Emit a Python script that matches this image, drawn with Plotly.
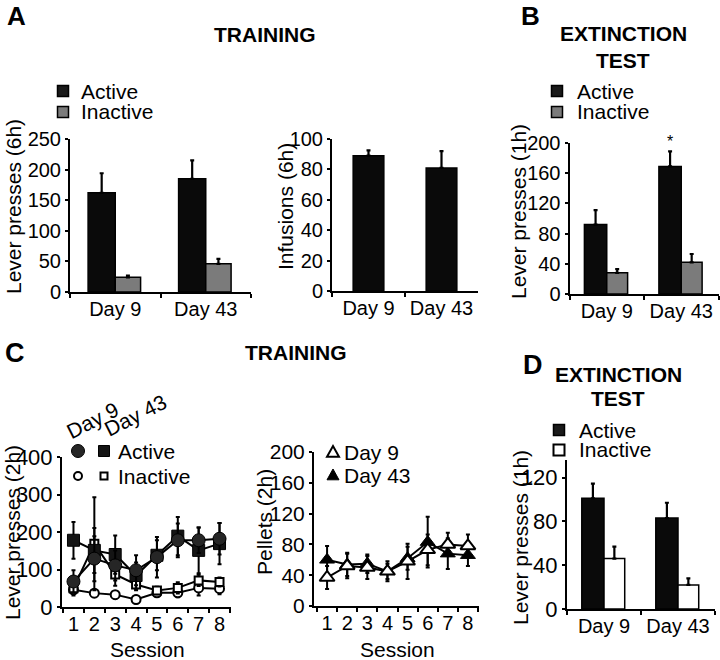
import plotly.graph_objects as go

W, H = 720, 660
FONT = "Liberation Sans, Arial, sans-serif"
NARROW = "Liberation Sans Narrow, Arial Narrow, Liberation Sans, Arial, sans-serif"


def px(x):
    return x / W


def py(y):
    return 1 - y / H


# ---------------- data ----------------
days = ["Day 9", "Day 43"]

# Panel A - training (6h)
a_active = [162, 185]
a_active_err = [32, 30]
a_inactive = [24, 46]
a_inactive_err = [3, 8]
a_infusions = [89, 81]
a_infusions_err = [3.5, 11]

# Panel B - extinction test (1h)
b_active = [92, 169]
b_active_err = [19, 20]
b_inactive = [28, 42]
b_inactive_err = [5, 11]

# Panel C - training sessions (2h)
sessions = [1, 2, 3, 4, 5, 6, 7, 8]
c_active_d9 = [68, 129, 111, 98, 133, 178, 178, 182]
c_active_d9_err = [30, 60, 40, 40, 54, 45, 34, 42]
c_active_d43 = [178, 151, 140, 84, 138, 189, 151, 169]
c_active_d43_err = [49, 60, 51, 35, 40, 51, 61, 55]
c_inactive_d9 = [46, 37, 33, 20, 38, 38, 51, 49]
c_inactive_d9_err = [15, 10, 10, 10, 10, 12, 20, 15]
c_inactive_d43 = [50, 169, 87, 60, 44, 51, 71, 67]
c_inactive_d43_err = [10, 124, 30, 15, 10, 15, 15, 12]

pellets_d9 = [37, 52, 50, 45, 58, 73, 80, 78]
pellets_d9_err = [15, 16, 15, 13, 23, 20, 15, 15]
pellets_d43 = [60, 54, 55, 45, 62, 83, 68, 66]
pellets_d43_err = [18, 15, 12, 10, 15, 33, 20, 14]

# Panel D - extinction test (1h)
d_active = [101, 83]
d_active_err = [13.5, 14]
d_inactive = [46, 22]
d_inactive_err = [11, 6]

BLACK = "#0a0a0a"
GRAY = "#7b7b7b"

fig = go.Figure()


def err_up(arr):
    return dict(type="data", array=arr, arrayminus=[0] * len(arr), symmetric=False,
                color="black", thickness=2.2, width=2)


def err_sym(arr):
    return dict(type="data", array=arr, color="black", thickness=2, width=2)


bar_line = dict(color="black", width=1.5)

# A left
fig.add_trace(go.Bar(x=days, y=a_active, width=0.3, offset=-0.3, marker=dict(color=BLACK, line=bar_line),
                     error_y=err_up(a_active_err), xaxis="x", yaxis="y", showlegend=False))
fig.add_trace(go.Bar(x=days, y=a_inactive, width=0.28, offset=0, marker=dict(color=GRAY, line=bar_line),
                     error_y=err_up(a_inactive_err), xaxis="x", yaxis="y", showlegend=False))
# A right
fig.add_trace(go.Bar(x=days, y=a_infusions, width=0.42, offset=-0.21, marker=dict(color=BLACK, line=bar_line),
                     error_y=err_up(a_infusions_err), xaxis="x2", yaxis="y2", showlegend=False))
# B
fig.add_trace(go.Bar(x=days, y=b_active, width=0.3, offset=-0.3, marker=dict(color=BLACK, line=bar_line),
                     error_y=err_up(b_active_err), xaxis="x3", yaxis="y3", showlegend=False))
fig.add_trace(go.Bar(x=days, y=b_inactive, width=0.28, offset=0, marker=dict(color=GRAY, line=bar_line),
                     error_y=err_up(b_inactive_err), xaxis="x3", yaxis="y3", showlegend=False))
# D
fig.add_trace(go.Bar(x=days, y=d_active, width=0.3, offset=-0.3, marker=dict(color=BLACK, line=bar_line),
                     error_y=err_up(d_active_err), xaxis="x6", yaxis="y6", showlegend=False))
fig.add_trace(go.Bar(x=days, y=d_inactive, width=0.28, offset=0, marker=dict(color="white", line=bar_line),
                     error_y=err_up(d_inactive_err), xaxis="x6", yaxis="y6", showlegend=False))

# C left
line_k = dict(color="black", width=2)
fig.add_trace(go.Scatter(x=sessions, y=c_inactive_d9, mode="lines+markers", line=line_k,
                         marker=dict(symbol="circle", size=9, color="white", line=dict(color="black", width=2)),
                         error_y=err_sym(c_inactive_d9_err), xaxis="x4", yaxis="y4", showlegend=False))
fig.add_trace(go.Scatter(x=sessions, y=c_inactive_d43, mode="lines+markers", line=line_k,
                         marker=dict(symbol="square", size=8, color="white", line=dict(color="black", width=2)),
                         error_y=err_sym(c_inactive_d43_err), xaxis="x4", yaxis="y4", showlegend=False))
fig.add_trace(go.Scatter(x=sessions, y=c_active_d43, mode="lines+markers", line=line_k,
                         marker=dict(symbol="square", size=12, color="#141414", line=dict(color="black", width=1)),
                         error_y=err_sym(c_active_d43_err), xaxis="x4", yaxis="y4", showlegend=False))
fig.add_trace(go.Scatter(x=sessions, y=c_active_d9, mode="lines+markers", line=line_k,
                         marker=dict(symbol="circle", size=13, color="#262626", line=dict(color="black", width=1)),
                         error_y=err_sym(c_active_d9_err), xaxis="x4", yaxis="y4", showlegend=False))

# C right (pellets)
fig.add_trace(go.Scatter(x=sessions, y=pellets_d43, mode="lines+markers", line=line_k,
                         marker=dict(symbol="triangle-up", size=13, color="black", line=dict(color="black", width=1)),
                         error_y=err_sym(pellets_d43_err), xaxis="x5", yaxis="y5", showlegend=False))
fig.add_trace(go.Scatter(x=sessions, y=pellets_d9, mode="lines+markers", line=line_k,
                         marker=dict(symbol="triangle-up", size=13, color="white", line=dict(color="black", width=2)),
                         error_y=err_sym(pellets_d9_err), xaxis="x5", yaxis="y5", showlegend=False))


def axbase(**kw):
    d = dict(showline=True, linecolor="black", linewidth=2, ticks="outside", ticklen=4, tickwidth=2,
             tickcolor="black", showgrid=False, zeroline=False, fixedrange=True, automargin=False,
             tickfont=dict(family=FONT, size=20, color="black"))
    d.update(kw)
    return d


def cat_x(x0, x1, anchor):
    return axbase(type="category", domain=[px(x0), px(x1)], range=[-0.5, 1.5], tickson="boundaries",
                  anchor=anchor, ticklabelstandoff=-2)


def sess_x(x0, x1, r, anchor):
    return axbase(domain=[px(x0), px(x1)], range=r, anchor=anchor, tickvals=sessions, ticks="",
                  minor=dict(tickvals=[0.5 + i for i in range(9)], ticks="outside", ticklen=4,
                             tickwidth=2, tickcolor="black"), ticklabelstandoff=-2)


def val_y(y0, y1, r, tv, anchor, narrow=0):
    kw = dict(domain=[py(y0), py(y1)], range=r, tickvals=tv, anchor=anchor, ticklen=3)
    if narrow:
        kw["tickfont"] = dict(family=NARROW, size=narrow, color="black")
    return axbase(**kw)


fig.update_layout(
    width=W, height=H, margin=dict(l=0, r=0, t=0, b=0, autoexpand=False),
    paper_bgcolor="white", plot_bgcolor="white",
    xaxis=cat_x(70, 251, "y"),
    yaxis=val_y(292, 139, [0, 250], [0, 50, 100, 150, 200, 250], "x"),
    xaxis2=cat_x(332, 478, "y2"),
    yaxis2=val_y(291, 139, [0, 100], [0, 20, 40, 60, 80, 100], "x2"),
    xaxis3=cat_x(569.5, 718.5, "y3"),
    yaxis3=val_y(294, 143, [0, 200], [0, 40, 80, 120, 160, 200], "x3"),
    xaxis4=sess_x(62, 231, [0.45, 8.55], "y4"),
    yaxis4=val_y(607, 457, [0, 400], [0, 100, 200, 300, 400], "x4", narrow=22),
    xaxis5=sess_x(314, 479, [0.35, 8.55], "y5"),
    yaxis5=val_y(606, 452, [0, 200], [0, 40, 80, 120, 160, 200], "x5", narrow=21),
    xaxis6=cat_x(567, 715, "y6"),
    yaxis6=val_y(609, 460, [0, 136], [0, 40, 80, 120], "x6", narrow=22),
)

ann = []


def text(x, y, s, size, bold=False, anchor="center", angle=0):
    ann.append(dict(x=px(x), y=py(y), xref="paper", yref="paper", showarrow=False,
                    text=("<b>%s</b>" % s) if bold else s, xanchor=anchor, yanchor="middle",
                    textangle=angle, font=dict(family=FONT, size=size, color="black")))


# panel letters and titles
text(16, 16, "A", 26, bold=True)
text(265, 34, "TRAINING", 21, bold=True)
text(530, 16, "B", 26, bold=True)
text(623, 33, "EXTINCTION", 21, bold=True)
text(623, 60, "TEST", 21, bold=True)
text(15, 353, "C", 27, bold=True)
text(296, 353, "TRAINING", 21, bold=True)
text(533, 365, "D", 27, bold=True)
text(618, 374, "EXTINCTION", 21, bold=True)
text(618, 399, "TEST", 21, bold=True)

# axis titles
text(13, 207, "Lever presses (6h)", 21, angle=-90)
text(285, 207, "Infusions (6h)", 21, angle=-90)
text(518, 212, "Lever presses (1h)", 21, angle=-90)
text(12, 533, "Lever presses (2h)", 21, angle=-90)
text(264, 522, "Pellets (2h)", 21, angle=-90)
text(520, 538, "Lever presses (1h)", 21, angle=-90)
text(147, 649, "Session", 21)
text(397, 649, "Session", 21)

# significance
text(670, 141, "*", 16)

# legends text
for (lx, ly) in [(79, 91), (575, 91)]:
    text(lx, ly, "Active", 21, anchor="left")
    text(lx, ly + 21, "Inactive", 21, anchor="left")
text(577, 430, "Active", 21, anchor="left")
text(577, 450, "Inactive", 21, anchor="left")
text(116, 451, "Active", 21, anchor="left")
text(116, 476, "Inactive", 21, anchor="left")
text(92, 420, "Day 9", 21, angle=-27)
text(135, 415, "Day 43", 21, angle=-27)
text(342, 452, "Day 9", 21, anchor="left")
text(342, 475, "Day 43", 21, anchor="left")

shapes = []


def sq(cx, cy, s, fill, lw=1.5):
    shapes.append(dict(type="rect", xref="paper", yref="paper", x0=px(cx - s / 2), x1=px(cx + s / 2),
                       y0=py(cy + s / 2), y1=py(cy - s / 2), fillcolor=fill,
                       line=dict(color="black", width=lw)))


def circ(cx, cy, r, fill, lw=1.5):
    shapes.append(dict(type="circle", xref="paper", yref="paper", x0=px(cx - r), x1=px(cx + r),
                       y0=py(cy + r), y1=py(cy - r), fillcolor=fill, line=dict(color="black", width=lw)))


def tri(cx, cy, s, fill, lw=1.5):
    path = "M %f %f L %f %f L %f %f Z" % (px(cx - s / 2), py(cy + s * 0.4), px(cx + s / 2), py(cy + s * 0.4),
                                          px(cx), py(cy - s * 0.5))
    shapes.append(dict(type="path", xref="paper", yref="paper", path=path, fillcolor=fill,
                       line=dict(color="black", width=lw)))


sq(63, 91, 11, "#1a1a1a")
sq(63, 112, 11, GRAY)
sq(557, 91, 11, "#1a1a1a")
sq(557, 112, 11, GRAY)
sq(559, 430, 11, "#1a1a1a")
sq(559, 450, 11, "white", lw=2)
circ(78, 451, 6.5, "#262626", lw=1)
sq(104, 451, 11, "#141414", lw=1)
circ(78, 476, 4, "white", lw=2)
sq(104, 476, 7, "white", lw=2)
tri(333, 452, 12, "white", lw=2)
tri(333, 475, 12, "black", lw=1)

fig.update_layout(annotations=ann, shapes=shapes)
fig.write_html("out.html", config={"displayModeBar": False},
               post_script="document.body.style.margin='0';document.body.style.overflow='hidden';")
